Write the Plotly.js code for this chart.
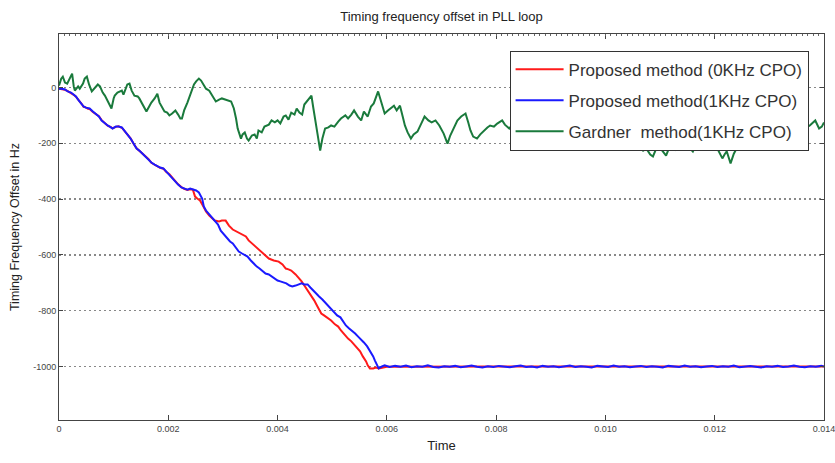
<!DOCTYPE html>
<html>
<head>
<meta charset="utf-8">
<script src="https://cdn.plot.ly/plotly-3.0.1.min.js"></script>
<style>html,body{margin:0;padding:0;background:#fff;}#chart{width:835px;height:463px;}</style>
</head>
<body>
<div id="chart"></div>
<script>
// ---- Data (time in seconds, offset in Hz) ----
const seriesNames = ["Proposed method (0KHz CPO)", "Proposed method(1KHz CPO)", "Gardner  method(1KHz CPO)"];

const tBlue = [0,0.00005,0.00011,0.00016,0.00022,0.00027,0.00031,0.00035,0.00038,0.00042,0.00045,0.00049,0.00053,0.00056,0.00062,0.00067,0.00073,0.00078,0.00084,0.00089,0.00095,0.00098,0.00104,0.00109,0.00115,0.00120,0.00125,0.00131,0.00136,0.00142,0.00147,0.00153,0.00158,0.00164,0.00169,0.00175,0.00180,0.00185,0.00191,0.00196,0.00202,0.00207,0.00213,0.00218,0.00224,0.00229,0.00235,0.00240,0.00245,0.00251,0.00256,0.00262,0.00265,0.00269,0.00275,0.00280,0.00285,0.00291,0.00296,0.00302,0.00307,0.00313,0.00318,0.00324,0.00329,0.00335,0.00340,0.00345,0.00351,0.00356,0.00362,0.00367,0.00373,0.00378,0.00384,0.00389,0.00395,0.00400,0.00405,0.00411,0.00416,0.00422,0.00427,0.00433,0.00438,0.00444,0.00449,0.00455,0.00460,0.00465,0.00471,0.00476,0.00482,0.00487,0.00493,0.00498,0.00504,0.00509,0.00515,0.00520,0.00525,0.00531,0.00536,0.00542,0.00547,0.00553,0.00558,0.00564,0.00569,0.00575,0.00578,0.00582,0.00585,0.00591,0.00596,
0.00605,0.00615,0.00625,0.00635,0.00645,0.00655,0.00665,0.00675,0.00685,0.00695,0.00705,0.00715,0.00725,0.00735,0.00745,0.00755,0.00765,0.00775,0.00785,0.00795,0.00805,0.00815,0.00825,0.00835,0.00845,0.00855,0.00865,0.00875,0.00885,0.00895,0.00905,0.00915,0.00925,0.00935,0.00945,0.00955,0.00965,0.00975,0.00985,0.00995,0.01005,0.01015,0.01025,0.01035,0.01045,0.01055,0.01065,0.01075,0.01085,0.01095,0.01105,0.01115,0.01125,0.01135,0.01145,0.01155,0.01165,0.01175,0.01185,0.01195,0.01205,0.01215,0.01225,0.01235,0.01245,0.01255,0.01265,0.01275,0.01285,0.01295,0.01305,0.01315,0.01325,0.01335,0.01345,0.01355,0.01365,0.01375,0.01385,0.01395,0.01400];
const vBlue = [-4,-4,-7,-14,-18,-25,-32,-43,-50,-61,-68,-72,-75,-75,-86,-93,-104,-118,-129,-136,-143,-147,-140,-140,-143,-154,-168,-183,-201,-219,-226,-237,-247,-258,-269,-276,-283,-287,-290,-301,-312,-323,-337,-348,-358,-362,-366,-362,-366,-369,-376,-398,-426,-441,-455,-466,-477,-491,-513,-527,-541,-552,-559,-573,-588,-595,-602,-606,-620,-631,-642,-649,-659,-667,-670,-677,-685,-692,-695,-699,-702,-710,-713,-710,-706,-702,-706,-706,-717,-728,-738,-749,-760,-771,-781,-792,-806,-817,-824,-839,-853,-864,-871,-882,-892,-903,-914,-928,-943,-964,-978,-996,-1007,-1000,-996,
-1002,-998,-1001,-997,-1003,-999,-1001,-996,-1002,-1004,-999,-1001,-998,-1003,-1000,-997,-1001,-1004,-999,-1002,-998,-1001,-1003,-999,-997,-1002,-1000,-1004,-998,-1001,-999,-1003,-1000,-997,-1002,-999,-1001,-1004,-998,-1000,-1002,-997,-1001,-999,-1003,-1000,-998,-1002,-999,-1001,-1004,-998,-1000,-1002,-997,-1001,-999,-1003,-1000,-998,-1002,-999,-1001,-997,-1003,-1000,-998,-1001,-1004,-999,-1001,-998,-1002,-1000,-997,-1001,-1003,-999,-1001,-998,-1000];

const tRed = [0,0.00005,0.00011,0.00016,0.00022,0.00027,0.00031,0.00035,0.00038,0.00042,0.00045,0.00049,0.00053,0.00056,0.00062,0.00067,0.00073,0.00078,0.00084,0.00089,0.00095,0.00098,0.00104,0.00109,0.00115,0.00120,0.00125,0.00131,0.00136,0.00142,0.00147,0.00153,0.00158,0.00164,0.00169,0.00175,0.00180,0.00185,0.00191,0.00196,0.00202,0.00207,0.00213,0.00218,0.00224,0.00229,0.00235,0.00240,0.00245,0.00249,0.00253,0.00258,0.00264,0.00269,0.00275,0.00280,0.00285,0.00293,0.00298,0.00305,0.00311,0.00318,0.00325,0.00333,0.00342,0.00347,0.00353,0.00360,0.00369,0.00376,0.00384,0.00393,0.00402,0.00409,0.00415,0.00420,0.00425,0.00433,0.00438,0.00444,0.00449,0.00455,0.00462,0.00467,0.00473,0.00480,0.00485,0.00493,0.00498,0.00505,0.00511,0.00516,0.00522,0.00529,0.00535,0.00540,0.00545,0.00551,0.00556,0.00562,0.00565,0.00569,0.00575,0.00580,0.00585,0.00600,0.00800,0.01000,0.01200,0.01400];
const vRed = [-4,-5,-8,-13,-19,-26,-33,-42,-51,-60,-69,-71,-76,-77,-88,-94,-103,-117,-130,-137,-142,-146,-141,-139,-144,-155,-169,-182,-200,-218,-227,-238,-246,-257,-270,-277,-282,-288,-291,-302,-311,-322,-338,-347,-357,-363,-367,-365,-366,-391,-398,-405,-426,-444,-459,-470,-477,-480,-477,-477,-495,-509,-516,-523,-534,-548,-559,-570,-588,-599,-613,-620,-624,-634,-649,-652,-656,-670,-681,-695,-710,-728,-746,-763,-785,-810,-817,-828,-835,-849,-857,-871,-885,-900,-910,-921,-932,-946,-964,-982,-996,-1007,-1007,-1004,-1007,-1001,-1000,-1000,-1001,-1000];

const tGreen = [0,0.00004,0.00007,0.00011,0.00015,0.00020,0.00024,0.00027,0.00029,0.00035,0.00038,0.00044,0.00047,0.00051,0.00055,0.00060,0.00065,0.00071,0.00075,0.00080,0.00084,0.00089,0.00093,0.00096,0.00100,0.00102,0.00107,0.00115,0.00118,0.00122,0.00125,0.00129,0.00133,0.00138,0.00144,0.00147,0.00153,0.00156,0.00160,0.00165,0.00169,0.00175,0.00180,0.00184,0.00189,0.00193,0.00198,0.00202,0.00207,0.00213,0.00218,0.00222,0.00225,0.00229,0.00235,0.00238,0.00244,0.00247,0.00251,0.00256,0.00260,0.00264,0.00269,0.00275,0.00280,0.00284,0.00287,0.00293,0.00298,0.00304,0.00309,0.00315,0.00318,0.00320,0.00324,0.00327,0.00333,0.00336,0.00340,0.00344,0.00347,0.00353,0.00358,0.00362,0.00365,0.00371,0.00376,0.00384,0.00389,0.00395,0.00400,0.00405,0.00411,0.00415,0.00420,0.00425,0.00431,0.00435,0.00440,0.00445,0.00449,0.00453,0.00458,0.00462,0.00465,0.00469,0.00473,0.00478,0.00482,0.00487,0.00493,0.00498,0.00504,0.00511,0.00516,0.00524,0.00529,0.00535,0.00540,0.00547,0.00553,0.00558,0.00565,0.00571,0.00576,0.00584,0.00589,0.00596,0.00602,0.00607,0.00613,0.00618,0.00624,0.00629,0.00633,0.00638,0.00644,0.00649,0.00656,0.00664,0.00669,0.00676,0.00682,0.00689,0.00696,0.00704,0.00711,0.00716,0.00724,0.00729,0.00736,0.00744,0.00749,0.00753,0.00758,0.00765,0.00771,0.00778,0.00784,0.00789,0.00796,0.00802,0.00807,0.00811,0.00816,0.00824,0.00831,0.00838,0.00845,0.00853,0.00860,0.00867,0.00874,0.00884,0.00893,0.00902,0.00911,0.00920,0.00929,0.00938,0.00947,0.00956,0.00965,0.00975,0.00984,0.00993,0.01002,0.01011,0.01020,0.01029,0.01038,0.01047,0.01056,0.01062,0.01069,0.01075,0.01082,0.01087,0.01093,0.01098,0.01105,0.01111,0.01116,0.01124,0.01129,0.01136,0.01142,0.01147,0.01155,0.01160,0.01165,0.01171,0.01178,0.01184,0.01191,0.01196,0.01202,0.01207,0.01211,0.01214,0.01218,0.01222,0.01225,0.01229,0.01235,0.01240,0.01247,0.01253,0.01260,0.01267,0.01274,0.01284,0.01293,0.01302,0.01311,0.01320,0.01329,0.01338,0.01347,0.01356,0.01365,0.01374,0.01384,0.01391,0.01396,0.01400];
const vGreen = [7,32,39,18,14,36,50,4,-11,4,-4,14,32,39,11,-14,-4,11,4,-18,-29,-50,-65,-75,-39,-29,-18,-11,-25,-4,11,14,-11,-29,-32,-39,-61,-75,-86,-68,-54,-39,-22,-54,-75,-86,-90,-100,-93,-82,-97,-111,-111,-82,-54,-39,-11,11,22,32,25,11,-4,-11,-29,-43,-50,-43,-39,-43,-47,-50,-65,-75,-111,-147,-183,-168,-161,-183,-190,-172,-168,-183,-154,-161,-140,-133,-118,-125,-118,-129,-104,-100,-115,-90,-97,-75,-90,-97,-61,-50,-36,-29,-68,-111,-165,-226,-183,-147,-143,-136,-140,-122,-111,-100,-111,-97,-82,-104,-118,-86,-104,-68,-57,-14,-50,-93,-82,-75,-65,-82,-65,-104,-136,-161,-183,-168,-158,-125,-104,-118,-125,-118,-136,-165,-201,-172,-136,-118,-104,-93,-125,-154,-176,-183,-168,-154,-143,-136,-140,-129,-122,-118,-133,-147,-129,-154,-140,-168,-147,-136,-161,-147,-168,-154,-140,-165,-176,-151,-136,-158,-172,-147,-161,-183,-168,-154,-176,-190,-168,-183,-201,-208,-226,-219,-240,-247,-219,-211,-229,-244,-219,-204,-222,-204,-215,-201,-219,-229,-208,-197,-211,-204,-190,-204,-208,-226,-240,-254,-240,-229,-247,-272,-237,-219,-208,-183,-168,-154,-140,-161,-147,-133,-154,-140,-125,-147,-140,-125,-147,-136,-118,-147,-140,-125];

const xTickVals = [0,0.002,0.004,0.006,0.008,0.010,0.012,0.014];
const xTickText = ["0","0.002","0.004","0.006","0.008","0.010","0.012","0.014"];
const yTickVals = [0,-200,-400,-600,-800,-1000];
const yTickText = ["0","-200","-400","-600","-800","-1000"];
const xRange = [0, 0.0140001];
const yRange = [-1192, 192];

const colors = ["#ff1a1a", "#1a1aff", "#1a7a3c"];
const tSets = [tRed, tBlue, tGreen];
const vSets = [vRed, vBlue, vGreen];

const traces = seriesNames.map((nm, i) => ({
  x: tSets[i], y: vSets[i], type: 'scatter', mode: 'lines', name: nm,
  legendgroup: 'g' + i,
  line: {color: colors[i], width: 2}
}));
// dummy trace so the top (overlay) axis is drawn with its dense tick marks
traces.push({x: [0], y: [0], xaxis: 'x2', type: 'scatter', mode: 'markers',
  marker: {opacity: 0}, showlegend: false, hoverinfo: 'skip'});

const narrow = '"Liberation Sans Narrow", "Arial Narrow", "Liberation Sans", Arial, sans-serif';
const layout = {
  width: 835, height: 463,
  margin: {l: 59, r: 11, t: 34, b: 43},
  paper_bgcolor: '#fff', plot_bgcolor: '#fff',
  title: {text: 'Timing frequency offset in PLL loop', x: 0.5, xref: 'paper', y: 0.965, yanchor: 'middle',
    font: {family: narrow, size: 13, color: '#222'}},
  showlegend: true,
  legend: {x: 0.589, y: 0.957, xanchor: 'left', yanchor: 'top', bgcolor: '#fff',
    bordercolor: '#333', borderwidth: 1, traceorder: 'grouped', tracegroupgap: 6, itemwidth: 48,
    font: {family: '"Liberation Sans", Arial, sans-serif', size: 17, color: '#333'}},
  xaxis: {range: xRange, tickvals: xTickVals, ticktext: xTickText, ticks: 'inside', ticklen: 5,
    tickcolor: '#444', showgrid: false, zeroline: false, showline: true, linecolor: '#444', linewidth: 1,
    mirror: 'ticks', ticklabeloverflow: 'allow', tickfont: {family: narrow, size: 9, color: '#444'},
    title: {text: 'Time', standoff: 8, font: {family: narrow, size: 13, color: '#222'}}},
  xaxis2: {overlaying: 'x', side: 'top', range: xRange, showticklabels: false, ticks: 'inside',
    tick0: 0, dtick: 0.0001, ticklen: 2, tickwidth: 1, tickcolor: '#666', showgrid: false, zeroline: false,
    showline: false},
  yaxis: {range: yRange, tickvals: yTickVals, ticktext: yTickText, ticks: 'inside', ticklen: 4,
    tickcolor: '#444', showgrid: true, gridcolor: '#888', griddash: '2px,3px', gridwidth: 1.5,
    zeroline: false, showline: true, linecolor: '#444', linewidth: 1, mirror: 'ticks',
    tickfont: {family: narrow, size: 9, color: '#444'},
    title: {text: 'Timing Frequency Offset in Hz', standoff: 10, font: {family: narrow, size: 12.5, color: '#222'}}}
};

Plotly.newPlot('chart', traces, layout, {displayModeBar: false, staticPlot: true});
</script>
</body>
</html>
